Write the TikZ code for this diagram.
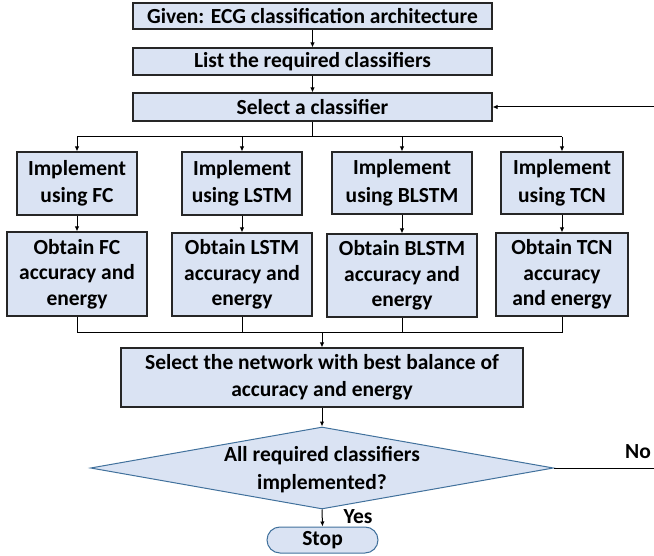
\documentclass[tikz,border=0pt]{standalone}
\usepackage{fontspec}
\setmainfont{Carlito}
\usetikzlibrary{arrows.meta,shapes.geometric}
\definecolor{boxfill}{HTML}{DAE3F3}
\definecolor{blueedge}{HTML}{41719C}
\definecolor{boxedge}{HTML}{262626}
\begin{document}
\begin{tikzpicture}[x=1pt,y=-1pt,
  txt/.style={font=\fontsize{21.5}{27.5}\selectfont\bfseries, align=center, inner sep=0pt},
  box/.style={txt, draw=boxedge, line width=1.1pt, fill=boxfill},
  obtbox/.style={box, font=\fontsize{21.5}{25.5}\selectfont\bfseries},
  dia/.style={diamond, draw=blueedge, line width=1pt, fill=boxfill, inner sep=0pt},
  term/.style={txt, draw=blueedge, line width=1pt, fill=boxfill, rounded corners=13pt},
  conn/.style={line width=1pt, black},
  arr/.style={conn, -{Latex[length=5pt,width=4.5pt]}}]
\useasboundingbox (0,0) rectangle (654,556);
% top chain
\node[box, minimum width=359, minimum height=26] (given) at (312.5,16) {Given: ECG classification architecture};
\node[box, minimum width=359, minimum height=27] (list) at (312.5,61.5) {List the required classifiers};
\node[box, minimum width=359, minimum height=28] (select) at (312.5,107) {Select a classifier};
% implement boxes
\node[box, minimum width=120, minimum height=63] (impFC) at (77,183.5) {Implement\\using FC};
\node[box, minimum width=120, minimum height=63] (impLSTM) at (242,183.5) {Implement\\using LSTM};
\node[box, minimum width=140, minimum height=62] (impBLSTM) at (402,183) {Implement\\using BLSTM};
\node[box, minimum width=122, minimum height=62] (impTCN) at (562,183) {Implement\\using TCN};
% obtain boxes
\node[obtbox, minimum width=140, minimum height=84] (obtFC) at (77,274) {Obtain FC\\accuracy and\\energy};
\node[obtbox, minimum width=140, minimum height=83] (obtLSTM) at (242,274.5) {Obtain LSTM\\accuracy and\\energy};
\node[obtbox, minimum width=150, minimum height=83] (obtBLSTM) at (402,275.5) {Obtain BLSTM\\accuracy and\\energy};
\node[obtbox, minimum width=132, minimum height=83] (obtTCN) at (562,274.5) {Obtain TCN\\accuracy\\and energy};
% network selection
\node[box, minimum width=402, minimum height=59] (net) at (322,377.5) {Select the network with best balance of\\accuracy and energy};
% decision
\node[dia, minimum width=463, minimum height=82] (dec) at (322,468) {};
\node[txt] (dectxt) at (322,469.5) {All required classifiers\\implemented?};
% stop
\node[term, minimum width=111, minimum height=26] (stop) at (322.5,540) {Stop};
% labels
\node[txt] (no) at (638,452) {No};
\node[txt] (yes) at (358,517) {Yes};
% coordinates
\coordinate (brL) at (77,137);
\coordinate (brR) at (562,137);
\coordinate (mg) at (0,333);
\coordinate (loopB) at (655.5,468);
% connectors
\draw[arr] (given) -- (list);
\draw[arr] (list) -- (select);
\draw[conn] (select.south) -- (select.south |- brL);
\draw[conn] (brL) -- (brR);
\draw[arr] (impFC.north |- brL) -- (impFC.north);
\draw[arr] (impLSTM.north |- brL) -- (impLSTM.north);
\draw[arr] (impBLSTM.north |- brL) -- (impBLSTM.north);
\draw[arr] (impTCN.north |- brL) -- (impTCN.north);
\draw[arr] (impFC) -- (obtFC);
\draw[arr] (impLSTM) -- (obtLSTM);
\draw[arr] (impBLSTM) -- (obtBLSTM);
\draw[arr] (impTCN) -- (obtTCN);
\draw[conn] (obtFC.south) -- (obtFC.south |- mg) -- (obtTCN.south |- mg) -- (obtTCN.south);
\draw[conn] (obtLSTM.south) -- (obtLSTM.south |- mg);
\draw[conn] (obtBLSTM.south) -- (obtBLSTM.south |- mg);
\draw[arr] (net.north |- mg) -- (net.north);
\draw[arr] (net.south) -- (dec.north);
\draw[arr] (dec.south) -- (stop.north);
\draw[arr] (dec.east) -- (loopB) |- (select.east);
\end{tikzpicture}
\end{document}
